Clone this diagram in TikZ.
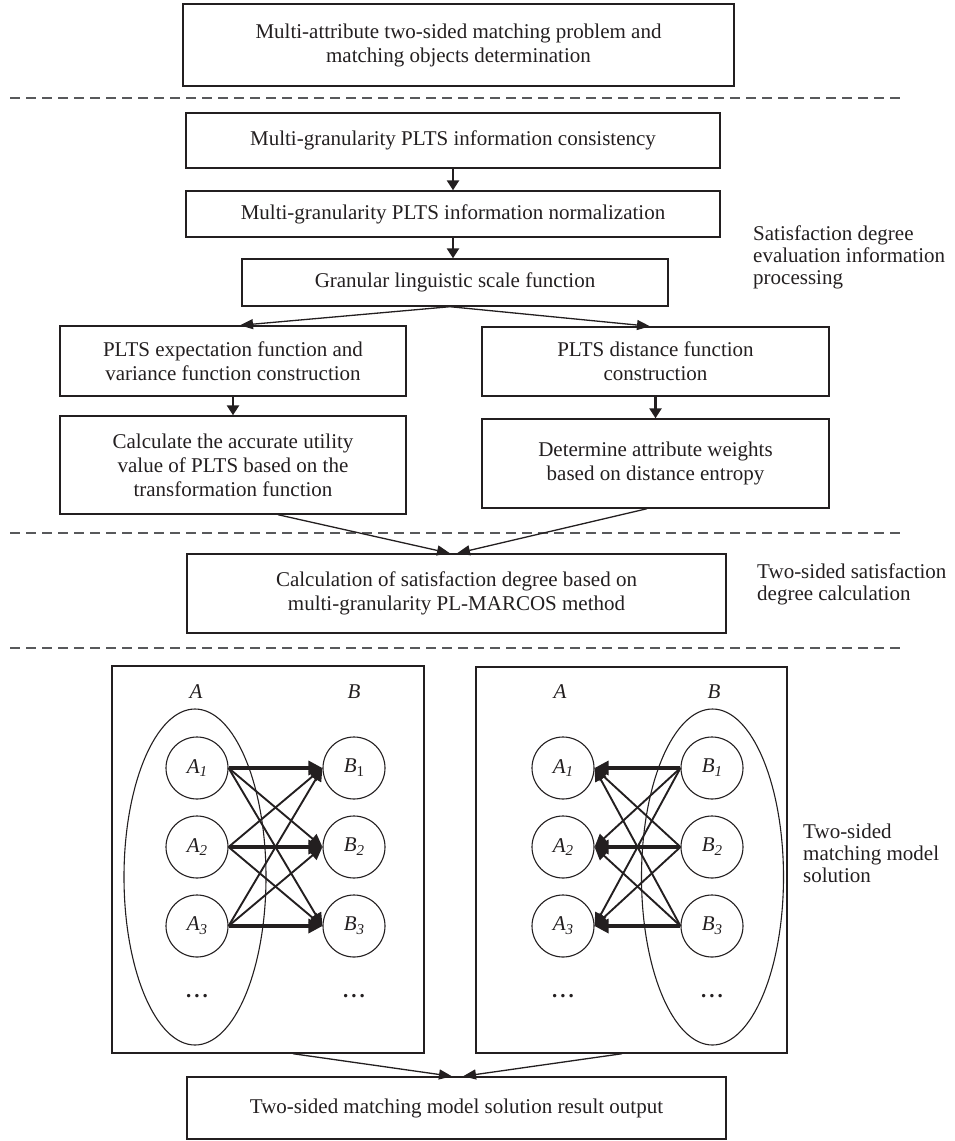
\documentclass[tikz,border=0pt]{standalone}
\usepackage{fontspec}
\setmainfont{Liberation Serif}
\usetikzlibrary{arrows.meta,shapes.geometric,calc}
\definecolor{ink}{HTML}{231F20}
\definecolor{dashgray}{HTML}{58595B}
\newcommand\lbl[2]{\textit{#1}\raisebox{-0.4ex}{\fontsize{15}{15}\selectfont\textit{#2}}}
\newcommand\lblu[2]{\textit{#1}\raisebox{-0.4ex}{\fontsize{15}{15}\selectfont #2}}
\newcommand\mydots{\textbf{.\hspace{3pt}.\hspace{3pt}.}}
\begin{document}
\begin{tikzpicture}[x=1pt,y=-1pt,
  box/.style={draw=ink,line width=1.4pt,text=ink,align=center,inner sep=0pt,font=\fontsize{21}{24}\selectfont},
  side/.style={anchor=west,text=ink,align=left,inner sep=0pt,font=\fontsize{21}{22}\selectfont},
  frame/.style={draw=ink,line width=1.4pt,inner sep=0pt},
  setell/.style={ellipse,draw=ink,line width=1.1pt,inner sep=0pt,minimum width=142pt,minimum height=336pt},
  elem/.style={circle,draw=ink,line width=1.1pt,inner sep=0pt,minimum size=62pt,text=ink,font=\fontsize{21}{24}\selectfont},
  setlbl/.style={text=ink,inner sep=0pt,font=\fontsize{21}{24}\selectfont\itshape},
  dotlbl/.style={text=ink,inner sep=0pt,font=\fontsize{21}{24}\selectfont},
  flow/.style={draw=ink,line width=2.6pt,-{Triangle[length=10pt,width=12pt]}},
  slant/.style={draw=ink,line width=1.3pt,-{Triangle[length=13pt,width=10pt]}},
  harrow/.style={draw=ink,line width=3.2pt,-{Triangle[length=14pt,width=14pt]}},
  darrow/.style={draw=ink,line width=1.9pt,-{Triangle[length=13pt,width=12pt]}},
  dashline/.style={draw=dashgray,line width=1.3pt,dash pattern=on 10pt off 6pt}
]
\useasboundingbox (0,0) rectangle (954,1141);

% dashed separators
\coordinate (d1s) at (10,98);  \coordinate (d1e) at (906,98);
\coordinate (d2s) at (10,533); \coordinate (d2e) at (906,533);
\coordinate (d3s) at (10,648); \coordinate (d3e) at (906,648);
\draw[dashline] (d1s) -- (d1e);
\draw[dashline] (d2s) -- (d2e);
\draw[dashline] (d3s) -- (d3e);

% boxes
\node[box,minimum width=551pt,minimum height=82pt] (bx1) at (458.5,45) {Multi-attribute two-sided matching problem and\\matching objects determination};
\node[box,minimum width=534pt,minimum height=55pt] (bx2) at (453,140.5) {Multi-granularity PLTS information consistency};
\node[box,minimum width=534pt,minimum height=46pt] (bx3) at (453,214) {Multi-granularity PLTS information normalization};
\node[box,minimum width=426pt,minimum height=47pt] (bx4) at (455,282.5) {Granular linguistic scale function};
\node[box,minimum width=346pt,minimum height=70pt] (L1) at (233,361) {PLTS expectation function and\\variance function construction};
\node[box,minimum width=346pt,minimum height=98pt] (L2) at (233,465) {Calculate the accurate utility\\value of PLTS based on the\\transformation function};
\node[box,minimum width=347pt,minimum height=69pt] (R1) at (655.5,361.5) {PLTS distance function\\construction};
\node[box,minimum width=347pt,minimum height=89pt] (R2) at (655.5,463.5) {Determine attribute weights\\based on distance entropy};
\node[box,minimum width=539pt,minimum height=79pt] (calc) at (456.5,593.5) {Calculation of satisfaction degree based on\\multi-granularity PL-MARCOS method};
\node[box,minimum width=539pt,minimum height=62pt] (out) at (456.5,1108) {Two-sided matching model solution result output};

% side labels
\node[side] (s1) at (753,257) {Satisfaction degree\\evaluation information\\processing};
\node[side] (s2) at (757,584) {Two-sided satisfaction\\degree calculation};
\node[side] (s3) at (803,853) {Two-sided\\matching model\\solution};

% flow arrows
\draw[flow] (bx2.south) -- (bx3.north);
\draw[flow] (bx3.south) -- (bx3.south |- bx4.north);
\draw[slant] ([xshift=-5pt]bx4.south) -- ([xshift=7pt]L1.north);
\draw[slant] ([xshift=-5pt]bx4.south) -- ([xshift=-5.5pt]R1.north);
\draw[flow] (L1.south) -- (L2.north);
\draw[flow] (R1.south) -- (R2.north);
\draw[slant] ([xshift=45pt]L2.south) -- ([xshift=-6.5pt]calc.north);
\draw[slant] ([xshift=-8.5pt]R2.south) -- ([xshift=0.5pt]calc.north);

% matching frames
\node[frame,minimum width=312pt,minimum height=387pt] (g1) at (268,859.5) {};
\node[frame,minimum width=311pt,minimum height=386pt] (g2) at (631.5,860) {};

% left graph
\node[setell] (e1) at (195,877) {};
\node[setlbl] (la) at (196,692) {A};
\node[setlbl] (lb) at (354,692) {B};
\node[elem] (a1) at (197,768) {\lbl{A}{1}};
\node[elem] (a2) at (197,847) {\lbl{A}{2}};
\node[elem] (a3) at (197,926) {\lbl{A}{3}};
\node[elem] (b1) at (354,768) {\lblu{B}{1}};
\node[elem] (b2) at (354,847) {\lbl{B}{2}};
\node[elem] (b3) at (354,926) {\lbl{B}{3}};
\node[dotlbl] (ad) at (197,996) {\mydots};
\node[dotlbl] (bd) at (354,996) {\mydots};
\foreach \i in {1,2,3}{\foreach \j in {1,2,3}{%
  \ifnum\i=\j \draw[harrow] (a\i.east) -- (b\j.west);
  \else \draw[darrow] (a\i.east) -- (b\j.west); \fi}}

% right graph
\node[setell] (e2) at (712.5,877) {};
\node[setlbl] (ra) at (560,692) {A};
\node[setlbl] (rb) at (714,692) {B};
\node[elem] (c1) at (563,768) {\lbl{A}{1}};
\node[elem] (c2) at (563,847) {\lbl{A}{2}};
\node[elem] (c3) at (563,926) {\lbl{A}{3}};
\node[elem] (d1) at (712,768) {\lbl{B}{1}};
\node[elem] (d2) at (712,847) {\lbl{B}{2}};
\node[elem] (d3) at (712,926) {\lbl{B}{3}};
\node[dotlbl] (cd) at (563,996) {\mydots};
\node[dotlbl] (dd) at (712,996) {\mydots};
\foreach \i in {1,2,3}{\foreach \j in {1,2,3}{%
  \ifnum\i=\j \draw[harrow] (d\j.west) -- (c\i.east);
  \else \draw[darrow] (d\j.west) -- (c\i.east); \fi}}

% to output
\draw[slant] ([xshift=25pt]g1.south) -- ([xshift=-4.5pt]out.north);
\draw[slant] ([xshift=-9.5pt]g2.south) -- ([xshift=6.5pt]out.north);
\end{tikzpicture}
\end{document}
